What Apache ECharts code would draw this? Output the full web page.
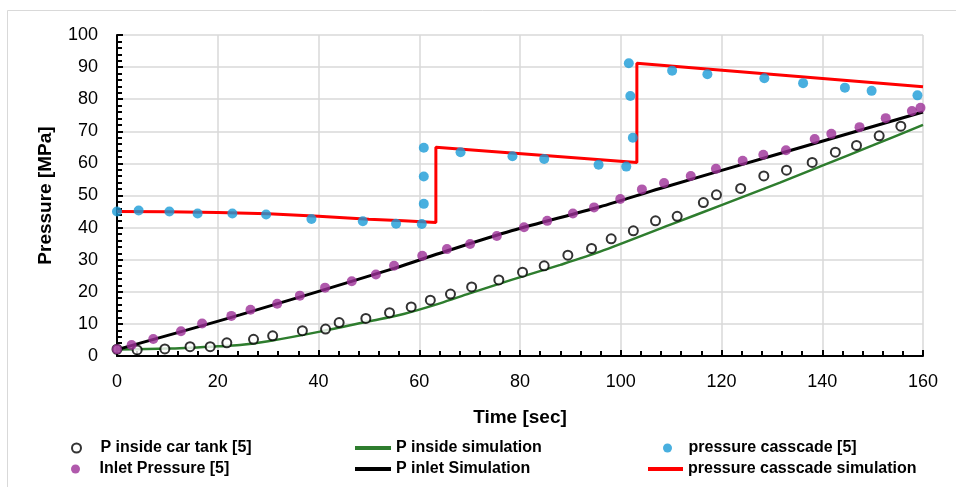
<!DOCTYPE html>
<html>
<head>
<meta charset="utf-8">
<script src="https://cdn.jsdelivr.net/npm/echarts@6/dist/echarts.min.js"></script>
<style>html,body{margin:0;padding:0;background:#fff;}#c{width:956px;height:487px;}</style>
</head>
<body>
<div id="c"></div>
<script>
// ---- data (time [sec], pressure [MPa]) ----
const tankT = [0,4,9.5,14.5,18.5,21.8,27.1,30.9,36.8,41.4,44.1,49.4,54.1,58.4,62.2,66.2,70.4,75.8,80.5,84.8,89.5,94.2,98.1,102.5,106.9,111.2,116.4,119,123.8,128.4,132.9,138,142.6,146.8,151.3,155.6];
const tankP = [2.1,1.9,2.2,2.9,2.9,4.1,5.2,6.3,7.9,8.4,10.4,11.7,13.5,15.3,17.4,19.3,21.5,23.7,26.1,28.1,31.4,33.5,36.5,39,42.1,43.5,47.8,50.2,52.2,56.1,57.9,60.3,63.5,65.6,68.6,71.6];

const inletT = [0,2.9,7.2,12.7,16.9,22.7,26.5,31.8,36.3,41.3,46.6,51.4,55,60.6,65.5,70.1,75.4,80.8,85.4,90.5,94.7,99.9,104.2,108.6,113.9,118.9,124.2,128.3,132.8,138.5,141.8,147.4,152.6,157.8,159.5];
const inletP = [2.1,3.4,5.3,7.7,10.1,12.5,14.4,16.3,18.8,21.3,23.3,25.4,28.1,31.2,33.3,34.9,37.4,40.1,42.1,44.4,46.3,48.9,51.9,53.9,56.1,58.3,60.8,62.7,64.1,67.6,69.2,71.3,74.1,76.3,77.3];

const cascT = [0,4.3,10.4,16,22.9,29.6,38.6,48.8,55.4,60.5,60.9,60.9,60.9,68.2,78.5,84.8,95.6,101.1,102.4,101.9,101.6,110.2,117.2,128.5,136.2,144.5,149.8,158.9];
const cascP = [45,45.3,45,44.4,44.4,44.1,42.7,42,41.2,41.1,47.4,55.9,64.9,63.5,62.2,61.4,59.6,59,68,81,91.2,88.9,87.8,86.5,85,83.6,82.6,81.2];

const insideSimT = [0,10,20,24.4,30,40.3,50,56.9,64.1,70,78.3,88,95.9,110,120,131.6,140,150,160];
const insideSimP = [2,2.3,3,3.4,4.6,7.6,10.8,13.1,16.4,19.5,23.7,28.4,32.5,41,47,54,59.3,65.6,72];

const inletSimT = [0,24.4,55,64.1,78.3,95.9,107.8,131.6,160];
const inletSimP = [2,12.8,27.3,32,39,46.5,52.2,63.1,76];

const cascSimT = [0,10,20,30,40,50,56.9,63.3,63.3,103.2,103.2,160];
const cascSimP = [45,44.9,44.7,44.3,43.5,42.6,42.1,41.6,65,60.3,91.2,83.9];

const seriesNames = ['P inside car tank [5]','P inside simulation','pressure casscade [5]','Inlet Pressure [5]','P inlet Simulation','pressure casscade simulation'];
const xTitle = 'Time [sec]';
const yTitle = 'Pressure [MPa]';

const zip = (a, b) => a.map((v, i) => [v, b[i]]);

const FONT = 'Liberation Sans, Arial, sans-serif';
const C_BLUE = '#1a9bd7', C_PURPLE = '#9c2f97', C_GREEN = '#2e7d2e', C_RED = '#ff0000';

function legendItem(name, left, top, icon, w, h) {
  return {
    data: [{ name: name, icon: icon }],
    left: left, top: top, padding: 0,
    itemWidth: w, itemHeight: h,
    selectedMode: false,
    textStyle: { fontFamily: FONT, fontSize: 16, fontWeight: 'bold', color: '#000', lineHeight: 18 }
  };
}

const chart = echarts.init(document.getElementById('c'), null, { renderer: 'canvas' });
chart.setOption({
  animation: false,
  backgroundColor: '#fff',
  graphic: [{
    type: 'rect', shape: { x: 7.5, y: 10.5, width: 970, height: 500 },
    style: { fill: 'none', stroke: '#d9d9d9', lineWidth: 1 }, silent: true, z: -10
  }],
  grid: { left: 117, right: 33, top: 35, bottom: 131, containLabel: false },
  legend: [
    legendItem(seriesNames[0], 71, 439, 'circle', 38, 9),
    legendItem(seriesNames[3], 71, 460, 'circle', 38, 9),
    legendItem(seriesNames[1], 355, 439, 'rect', 36, 4),
    legendItem(seriesNames[4], 355, 460, 'rect', 36, 4),
    legendItem(seriesNames[2], 663, 439, 'circle', 32, 9),
    legendItem(seriesNames[5], 648, 460, 'rect', 35, 4)
  ],
  xAxis: {
    type: 'value', min: 0, max: 160, interval: 20,
    name: xTitle, nameLocation: 'middle', nameGap: 52,
    nameTextStyle: { fontFamily: FONT, fontSize: 19, fontWeight: 'bold', color: '#000' },
    axisLine: { show: true, onZero: false, lineStyle: { color: '#000', width: 2 } },
    axisTick: { show: true, inside: true, length: 6, lineStyle: { color: '#000', width: 2 } },
    minorTick: { show: true, splitNumber: 5, length: 5, lineStyle: { color: '#000', width: 2 } },
    axisLabel: { fontFamily: FONT, fontSize: 18, color: '#000', margin: 17 },
    splitLine: { show: true, lineStyle: { color: '#d9d9d9', width: 1.5 } }
  },
  yAxis: {
    type: 'value', min: 0, max: 100, interval: 10,
    name: yTitle, nameLocation: 'middle', nameGap: 62,
    nameTextStyle: { fontFamily: FONT, fontSize: 19, fontWeight: 'bold', color: '#000' },
    axisLine: { show: true, onZero: false, lineStyle: { color: '#000', width: 2 } },
    axisTick: { show: true, inside: true, length: 6, lineStyle: { color: '#000', width: 2 } },
    minorTick: { show: true, splitNumber: 5, length: 5, lineStyle: { color: '#000', width: 2 } },
    axisLabel: { fontFamily: FONT, fontSize: 18, color: '#000', margin: 19 },
    splitLine: { show: true, lineStyle: { color: '#d9d9d9', width: 1.5 } }
  },
  series: [
    { name: seriesNames[1], type: 'line', data: zip(insideSimT, insideSimP), showSymbol: false, smooth: 0.3,
      color: C_GREEN, lineStyle: { color: C_GREEN, width: 2.5 }, z: 2 },
    { name: seriesNames[4], type: 'line', data: zip(inletSimT, inletSimP), showSymbol: false, smooth: 0.3,
      color: '#000', lineStyle: { color: '#000', width: 3 }, z: 2 },
    { name: seriesNames[5], type: 'line', data: zip(cascSimT, cascSimP), showSymbol: false,
      color: C_RED, lineStyle: { color: C_RED, width: 3 }, z: 2 },
    { name: seriesNames[0], type: 'scatter', data: zip(tankT, tankP), symbol: 'circle', symbolSize: 9,
      itemStyle: { color: '#fff', borderColor: '#000', borderWidth: 2 }, z: 3 },
    { name: seriesNames[2], type: 'scatter', data: zip(cascT, cascP), symbol: 'circle', symbolSize: 10,
      itemStyle: { color: C_BLUE }, z: 4 },
    { name: seriesNames[3], type: 'scatter', data: zip(inletT, inletP), symbol: 'circle', symbolSize: 10,
      itemStyle: { color: C_PURPLE }, z: 4 }
  ]
});
</script>
</body>
</html>
